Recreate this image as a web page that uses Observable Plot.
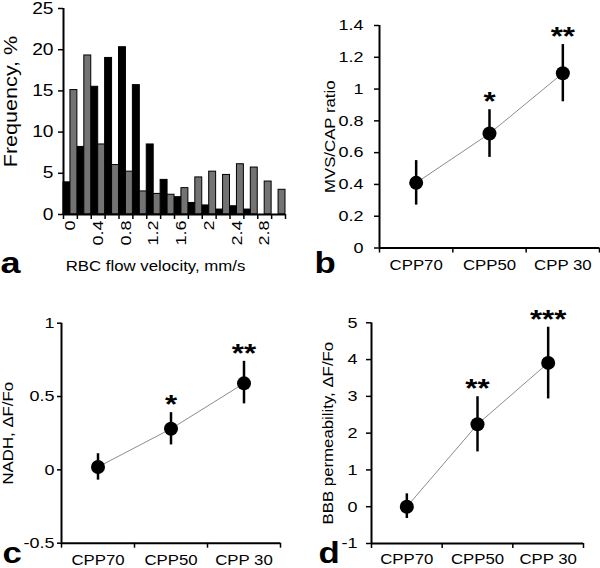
<!DOCTYPE html>
<html><head><meta charset="utf-8">
<script src="https://cdn.jsdelivr.net/npm/d3@7"></script>
<script src="https://cdn.jsdelivr.net/npm/@observablehq/plot@0.6"></script>
<style>
body{margin:0;background:#fff}
#fig{position:relative;width:600px;height:568px;overflow:hidden;background:#fff}
#fig svg{position:absolute;overflow:visible}
</style></head><body><div id="fig"></div><script>
// ---------- Panel a: RBC flow velocity histogram ----------
const binStarts = [0,0.2,0.4,0.6,0.8,1.0,1.2,1.4,1.6,1.8,2.0,2.2,2.4,2.6,2.8,3.0];
const binWidth = 0.2;
const blackFreq = [3.9,8.2,15.5,19.0,20.3,15.7,8.5,4.2,2.1,1.4,1.1,0.6,1.0,0.6,0,0];
const grayFreq  = [15.1,19.3,8.5,6.0,5.2,2.8,2.5,2.4,3.2,4.5,5.2,4.8,6.1,5.7,4.0,3.0];
const velocityTickLabels = ["0","0.4","0.8","1.2","1.6","2","2.4","2.8"];
const freqTicks = [0,5,10,15,20,25];

// ---------- Panels b-d ----------
const groups = ["CPP70","CPP50","CPP 30"];
const mvsMean = [0.41,0.72,1.10], mvsLo = [0.27,0.57,0.92], mvsHi = [0.55,0.87,1.28];
const mvsStars = ["","*","**"];
const mvsTicks = [0,0.2,0.4,0.6,0.8,1,1.2,1.4];
const nadhMean = [0.02,0.28,0.59], nadhLo = [-0.07,0.17,0.45], nadhHi = [0.11,0.39,0.74];
const nadhStars = ["","*","**"];
const nadhTicks = [-0.5,0,0.5,1];
const bbbMean = [0.0,2.24,3.91], bbbLo = [-0.32,1.49,2.93], bbbHi = [0.35,2.99,4.88];
const bbbStars = ["","**","***"];
const bbbTicks = [-1,0,1,2,3,4,5];

const FONT = '"Liberation Sans", Arial, Helvetica, sans-serif';
const STRETCH = 1.2;
const fig = document.getElementById("fig");

function stretchText(svg){
  svg.querySelectorAll("text").forEach(t=>{
    const tr = t.getAttribute("transform") || "";
    t.setAttribute("transform", tr + ` scale(${STRETCH},1)`);
  });
}
function addPlot(svg, left, top){
  stretchText(svg);
  svg.style.left = left + "px";
  svg.style.top = top + "px";
  fig.appendChild(svg);
}

// Panel a
{
  const W = 300, H = 284, ml = 63, mr = 15, mt = 8, mb = 70;
  const bins = binStarts.map((s,i)=>({s, black: blackFreq[i], gray: grayFreq[i]}));
  const xEnd = binStarts[binStarts.length-1] + binWidth;
  const centers = velocityTickLabels.map(l => +l + binWidth/2);
  const svg = Plot.plot({
    width: W, height: H, marginLeft: ml, marginRight: mr, marginTop: mt, marginBottom: mb,
    style: {fontFamily: FONT, fontSize: "14px", color: "#000", background: "transparent"},
    x: {domain: [0, xEnd]},
    y: {domain: [0, 25]},
    marks: [
      Plot.rect(bins, {x1: d=>d.s, x2: d=>d.s+binWidth/2, y1: 0, y2: "black", fill: "#000", stroke: "#000", strokeWidth: 1}),
      Plot.rect(bins, {x1: d=>d.s+binWidth/2, x2: d=>d.s+binWidth, y1: 0, y2: "gray", fill: "#737373", stroke: "#000", strokeWidth: 1}),
      Plot.axisY({ticks: freqTicks, tickFormat: d=>String(d), tickSize: 5, tickPadding: 5, strokeWidth: 1.5, fontSize: 16, label: null}),
      Plot.axisX({ticks: [...binStarts, xEnd], tickFormat: ()=>"", tickSize: 5, strokeWidth: 1.5, label: null}),
      Plot.axisX({ticks: centers, tickFormat: d=>velocityTickLabels[centers.indexOf(d)], tickSize: 0, tickPadding: 6, tickRotate: -90, fontSize: 15, label: null}),
      Plot.ruleY([0], {strokeWidth: 2}),
      Plot.ruleX([0], {strokeWidth: 2}),
      Plot.text(["Frequency, %"], {frameAnchor: "left", rotate: -90, dx: -52, dy: -10, lineAnchor: "middle", textAnchor: "middle", fontSize: 18}),
      Plot.text(["RBC flow velocity, mm/s"], {frameAnchor: "bottom", dx: -19, dy: 56, lineAnchor: "bottom", textAnchor: "middle", fontSize: 14}),
      Plot.text(["a"], {frameAnchor: "bottom-left", dx: -63, dy: 58, lineAnchor: "bottom", textAnchor: "start", fontSize: 30, fontWeight: "bold"})
    ]
  });
  addPlot(svg, 0, 0);
}

function panel({mean, lo, hi, stars, ticks, yLabel, letter, left, top, ml, mr, mt, mb,
                tickSize, tickPadding, labelDx, letterDx, letterDy, xPad}){
  const W = 300, H = 284;
  const pts = groups.map((g,i)=>({i, g, m: mean[i], lo: lo[i], hi: hi[i], s: stars[i]}));
  const bounds = d3.range(groups.length + 1).map(i => i - 0.5);
  const svg = Plot.plot({
    width: W, height: H, marginLeft: ml, marginRight: mr, marginTop: mt, marginBottom: mb,
    style: {fontFamily: FONT, fontSize: "14px", color: "#000", background: "transparent"},
    x: {domain: [bounds[0], bounds[bounds.length-1]]},
    y: {domain: [ticks[0], ticks[ticks.length-1]]},
    marks: [
      Plot.axisY({ticks, tickFormat: d=>String(d), tickSize, tickPadding, strokeWidth: 1.5, fontSize: 15, label: null}),
      Plot.axisX({ticks: bounds, tickFormat: ()=>"", tickSize: 5, strokeWidth: 1.5, label: null}),
      Plot.axisX({ticks: pts.map(p=>p.i), tickFormat: i=>groups[i], tickSize: 0, tickPadding: xPad, fontSize: 14, label: null}),
      Plot.ruleY([ticks[0]], {strokeWidth: 2}),
      Plot.ruleX([bounds[0]], {strokeWidth: 2}),
      Plot.line(pts, {x: "i", y: "m", stroke: "#8c8c8c", strokeWidth: 1}),
      Plot.ruleX(pts, {x: "i", y1: "lo", y2: "hi", stroke: "#000", strokeWidth: 2.5}),
      Plot.dot(pts, {x: "i", y: "m", r: 7, fill: "#000", stroke: "none"}),
      Plot.text(pts, {x: "i", y: "hi", text: "s", dy: -8, lineAnchor: "middle", fontSize: 26, fontWeight: "bold"}),
      Plot.text([yLabel], {frameAnchor: "left", rotate: -90, dx: labelDx, lineAnchor: "middle", textAnchor: "middle", fontSize: 14}),
      Plot.text([letter], {frameAnchor: "bottom-left", dx: letterDx, dy: letterDy, lineAnchor: "bottom", textAnchor: "start", fontSize: 29, fontWeight: "bold"})
    ]
  });
  addPlot(svg, left, top);
}

panel({mean: mvsMean, lo: mvsLo, hi: mvsHi, stars: mvsStars, ticks: mvsTicks, yLabel: "MVS/CAP ratio", letter: "b",
  left: 300, top: 0, ml: 79, mr: 1, mt: 25, mb: 36.5, tickSize: 5, tickPadding: 11, labelDx: -49, letterDx: -65, letterDy: 24.5, xPad: 12});
panel({mean: nadhMean, lo: nadhLo, hi: nadhHi, stars: nadhStars, ticks: nadhTicks, yLabel: "NADH, ΔF/Fo", letter: "c",
  left: 0, top: 284, ml: 61, mr: 20, mt: 38.7, mb: 25.3, tickSize: 4, tickPadding: 3, labelDx: -53, letterDx: -59, letterDy: 19.3, xPad: 12});
panel({mean: bbbMean, lo: bbbLo, hi: bbbHi, stars: bbbStars, ticks: bbbTicks, yLabel: "BBB permeability, ΔF/Fo", letter: "d",
  left: 300, top: 284, ml: 71, mr: 17, mt: 38.3, mb: 25, tickSize: 5, tickPadding: 9, labelDx: -43, letterDx: -53, letterDy: 19, xPad: 11});
</script></body></html>
